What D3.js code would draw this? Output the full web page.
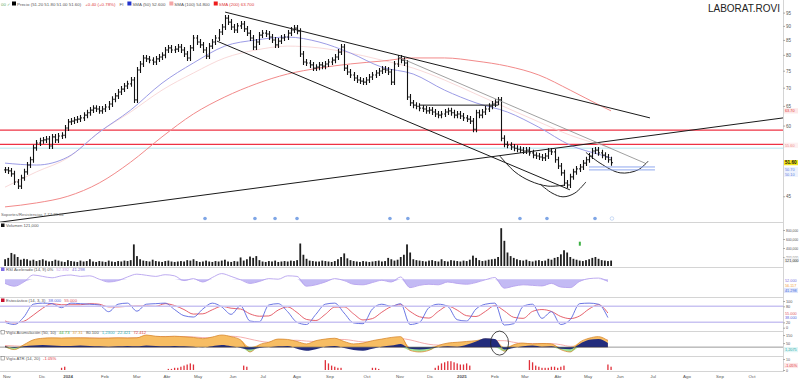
<!DOCTYPE html>
<html>
<head>
<meta charset="utf-8">
<script src="https://cdn.jsdelivr.net/npm/d3@7"></script>
<style>
  body { margin: 0; background: #fff; }
  svg { display: block; font-family: 'Liberation Sans', Arial, sans-serif; }
</style>
</head>
<body>
<svg></svg>
<script>
// one slot = two trading sessions
const closes = [
  50.1,49.9,49.3,47.7,46.9,48.5,49.7,51.1,52.2,54.8,
  55.9,56.4,56.6,56.8,55.2,57.3,56.6,57.5,57.7,59.4,
  60.9,61.1,61.4,61.6,61.9,62.6,63.2,63.9,64.4,64.2,
  63.7,64.2,64.7,65.5,66.8,67.7,68.8,69.6,70.5,71.1,
  72.2,66.6,75.2,77.1,79.0,78.7,78.3,77.7,78.7,79.3,
  79.9,81.6,82.3,81.6,81.9,82.6,81.6,80.3,79.0,82.3,
  85.7,84.3,83.3,81.6,79.6,82.9,84.3,85.7,87.8,89.6,
  92.9,91.4,89.6,88.5,90.0,90.7,88.9,87.4,85.7,82.6,
  84.3,86.7,87.4,87.1,86.0,85.0,83.3,84.6,85.7,86.0,
  87.4,88.5,89.2,88.1,80.3,77.7,77.4,76.8,75.8,76.1,
  76.8,76.4,77.1,77.7,78.3,79.3,80.9,82.6,75.8,74.6,
  73.7,72.8,72.2,71.9,71.6,72.2,73.1,73.7,74.3,74.9,
  75.5,75.2,74.6,71.6,77.1,79.0,78.3,77.4,67.4,65.8,
  65.2,64.9,64.4,64.2,63.7,63.9,63.4,62.9,62.6,62.9,
  63.4,63.7,63.2,62.6,62.9,62.4,61.9,61.6,61.1,59.1,
  63.2,62.6,63.4,64.2,64.9,65.5,66.0,66.6,57.0,55.6,
  55.4,55.0,54.7,54.5,54.3,54.1,54.3,53.7,53.2,53.0,
  52.8,52.6,53.0,54.1,53.9,52.2,50.9,49.5,47.5,47.1,
  48.7,49.7,50.3,50.7,51.5,52.2,53.0,54.1,54.3,53.7,
  53.2,52.8,52.2,51.6
]
// thousands of shares
const volumes = [
  150,180,290,260,200,140,160,150,120,140,
  110,130,150,120,100,110,140,120,100,90,
  130,110,100,90,120,100,110,150,100,90,
  110,100,90,120,100,90,110,100,120,110,
  130,480,220,150,120,110,100,140,110,100,
  90,110,120,100,90,100,110,100,130,120,
  150,110,90,100,120,100,90,110,100,120,
  140,100,90,110,100,190,120,150,210,180,
  220,130,100,90,110,100,120,90,100,110,
  100,120,110,130,500,250,160,120,110,100,
  100,120,110,100,90,110,150,200,280,170,
  130,110,100,90,110,100,90,100,110,120,
  100,110,180,150,120,140,200,250,480,300,
  150,130,120,110,100,120,130,110,100,150,
  110,100,130,120,110,100,120,110,140,230,
  180,130,110,120,140,150,160,200,840,560,
  300,220,180,150,130,120,140,110,100,120,
  130,110,120,160,140,180,200,260,350,300,
  200,160,140,120,110,130,150,180,200,160,
  130,120,110,121
]

const smaSlots = [0,10,20,30,40,50,60,70,80,90,100,110,120,130,140,150,160,170,180,190,193]
const sma50 = [51.5,51.1,52.8,58.4,63.9,71.3,77.4,82.9,85.0,86.0,84.3,80.6,76.1,74.0,69.3,65.8,63.4,59.6,55.4,53.2,52.6]
const sma100 = [46.7,49.7,52.6,58.4,63.4,69.3,74.3,79.0,81.6,82.9,82.3,80.6,78.3,75.8,72.2,68.2,64.4,60.9,57.7,55.4,54.8]
const sma200 = [43.1,43.8,45.0,47.5,51.7,57.3,62.9,67.4,71.1,74.0,75.8,77.1,78.0,79.0,79.0,78.0,76.4,73.7,69.3,64.9,63.7]

// oscillators sampled every third slot (0, 3, ... 192)
const rsi = [45,35,50,75,70,65,72,75,70,72,60,50,55,68,78,74,70,76,72,55,62,50,66,80,70,58,45,52,62,60,72,70,35,40,50,62,55,42,40,48,56,50,68,30,38,42,40,50,45,42,48,58,66,28,35,40,38,36,45,32,30,52,62,64,52]
const stochK = [20,12,40,88,92,90,75,92,90,88,85,60,88,92,62,88,90,92,68,45,40,70,92,78,50,82,25,22,85,90,60,20,12,50,88,92,55,18,15,70,88,80,90,12,20,75,88,80,30,25,70,88,92,10,15,80,88,35,60,12,30,90,92,88,38]
const stochD = [25,18,24,47,73,90,86,86,86,90,88,78,78,80,81,81,80,90,83,68,51,52,67,80,73,70,52,43,44,66,78,57,31,27,50,77,78,52,29,34,58,79,86,61,41,36,61,81,66,45,42,61,83,63,39,35,61,68,61,42,34,44,70,86,55]
const accum = [10,-30,30,90,110,115,113,115,115,113,110,112,115,113,115,150,135,130,135,128,120,105,125,150,130,90,-60,30,60,100,95,70,40,80,100,110,70,40,50,80,100,120,130,-40,-60,-40,20,50,60,70,80,100,90,-50,30,50,40,45,40,-30,-60,60,110,130,80]
const accumBase = [10,-10,10,20,25,20,15,15,20,15,10,5,10,15,10,20,15,10,15,10,5,-5,10,25,10,-10,-30,-10,0,10,15,-20,-45,-25,5,15,-10,-35,-45,-20,5,20,40,-20,-30,-20,0,10,5,30,70,110,100,-30,-10,10,20,5,10,-20,-25,40,90,100,50]
const accumSignal = [20,15,10,30,60,85,100,108,112,113,112,111,112,113,114,120,130,132,132,131,126,118,115,125,135,125,100,75,60,65,80,85,75,70,80,95,95,80,65,65,75,90,105,90,60,35,25,30,40,50,60,70,80,80,60,45,45,45,44,30,10,15,45,80,90]

const atrSlots = [18,19,52,53,54,55,56,57,58,59,60,76,77,102,103,104,105,106,107,117,118,119,137,138,139,140,141,142,143,144,145,146,147,148,167,168,169,170,171,172,173,174,175,176,177,178,192,193]
const atrValues = [2,3,1,1,2,2,3,4,5,6,5,4,3,9,6,4,3,2,2,2,2,1,2,4,6,7,8,8,7,6,5,5,6,4,9,7,4,3,2,2,2,3,3,2,3,4,5,3]

// drawn studies: [slot, price]
const lineStarts = [[70.1, 95.2], [67.5, 84.6], [-1.6, 40.5], [132, 65.2]]
const lineEnds = [[205.4, 61.9], [179.9, 46.2], [247.8, 61.9], [157, 65.2]]
const thinStart = [125.2, 79.3]
const thinEnd = [203.8, 51.5]
const cupLeft = [[157.6, 53.0], [162.4, 49.7], [167.2, 47.9], [172.9, 46.9], [178.3, 47.1]]
const cupLow = [[170.4, 47.3], [174.2, 45.6], [177.7, 44.9], [181.5, 45.6], [185, 47.7]]
const cupRight = [[185, 53.8], [189.5, 51.5], [195.9, 49.5], [201.6, 50.1], [204.8, 51.9]]
const resistances = [58.9, 55.6]
const supportCyan = 54.7
const blueLevels = [50.7, 50.1]
const blueLevelSlots = [186, 207]
const eventSlots = [63.7, 79.6, 86, 93, 122.6, 128.3, 164, 172.6, 187.9]
const lastEventSlot = 193.3
const volMarkerSlot = 183
const volMarkerValue = 540
const circleSlot = 157.5
const circleValue = 50

const priceTicks = [45, 60, 65, 70, 75, 80, 85, 90, 95]
const volTicks = [200, 400, 600, 800]
const monthLabels = ['Nov','Dic','2024','Feb','Mar','Abr','May','Jun','Jul','Ago','Sep','Oct','Nov','Dic','2025','Feb','Mar','Abr','May','Jun','Jul','Ago','Sep','Oct']
const monthSlots = [0.6,11.8,20.1,31.8,42,51.6,61.5,72.6,82.2,93,103.5,115.3,125.8,135.4,145.5,156,165.6,176.1,185.7,195.9,206.4,217.2,227.7,237.9]

const width = 799
const height = 379
const axisX = 783
const fmt2 = d3.format('.2f')
const fmt3 = d3.format('.3f')

const svg = d3.select('svg').attr('width', width).attr('height', height)
const defs = svg.append('defs')
const addClip = (id, y0, y1) => {
  defs.append('clipPath').attr('id', id)
    .append('rect').attr('x', 0).attr('y', y0).attr('width', axisX).attr('height', y1 - y0)
}

const x = d3.scaleLinear().domain([0, 247]).range([5, 5 + 247 * 3.14])
const y = d3.scaleLog().domain([40.53, 100]).range([222, 0])
const yVol = d3.scaleLinear().domain([0, 800]).range([266, 230])
const yRsi = d3.scaleLinear().domain([0, 100]).range([296, 268])
const yStoch = d3.scaleLinear().domain([0, 100]).range([327.7, 301])
const yAcc = d3.scaleLinear().domain([-110, 200]).range([356, 331])
const yAtr = d3.scaleLinear().domain([0, 10]).range([370, 359])
const oscSlots = rsi.map((_, i) => i * 3)

addClip('c-main', 0, 222)
addClip('c-vol', 222, 267)
addClip('c-rsi', 267, 297)
addClip('c-stoch', 297, 331)
addClip('c-acc', 331, 356)
addClip('c-atr', 356, 371)

// frame
const frame = svg.append('g').attr('stroke', '#d4d4d4').attr('stroke-width', 1)
;[222.5, 267.5, 297.5, 331.5, 356.5, 371.5].forEach(v => {
  frame.append('line').attr('x1', 0).attr('x2', axisX).attr('y1', v).attr('y2', v)
})
frame.append('line').attr('x1', axisX + 0.5).attr('x2', axisX + 0.5).attr('y1', 0).attr('y2', 372)

const rightAxis = (scale, ticks, fmt, size) => {
  svg.append('g')
    .attr('transform', `translate(${axisX},0)`)
    .call(d3.axisRight(scale).tickValues(ticks).tickSize(2).tickFormat(fmt))
    .call(g => g.select('.domain').remove())
    .call(g => g.selectAll('line').attr('stroke', '#aaa'))
    .call(g => g.selectAll('text').attr('font-size', size).attr('fill', '#555').attr('x', 3))
}

const tag = (yPos, text, bg, fg, bold) => {
  const g = svg.append('g').attr('transform', `translate(${axisX + 1},${yPos})`)
  g.append('rect').attr('x', 0).attr('y', -2.6).attr('width', 14).attr('height', 5.2).attr('fill', bg)
  g.append('text').attr('x', 1).attr('y', 1.5).attr('font-size', bold ? 4.6 : 3.8)
    .attr('font-weight', bold ? 'bold' : 'normal').attr('fill', fg).text(text)
}

// ---------- price panel
const main = svg.append('g').attr('clip-path', 'url(#c-main)')

main.selectAll('line.res')
  .data(resistances)
  .join('line')
  .attr('x1', 0).attr('x2', axisX)
  .attr('y1', d => y(d)).attr('y2', d => y(d))
  .attr('stroke', '#ee3344').attr('stroke-width', 1.2)

main.append('line')
  .attr('x1', 0).attr('x2', axisX)
  .attr('y1', y(supportCyan)).attr('y2', y(supportCyan))
  .attr('stroke', '#cdeff5').attr('stroke-width', 1.5)

const smaLine = d3.line()
  .x((d, i) => x(smaSlots[i]))
  .y(d => y(d))
  .curve(d3.curveMonotoneX)

main.append('path').attr('d', smaLine(sma100)).attr('fill', 'none')
  .attr('stroke', '#f6cfcf').attr('stroke-width', 0.8)
main.append('path').attr('d', smaLine(sma200)).attr('fill', 'none')
  .attr('stroke', '#f28a8a').attr('stroke-width', 1)
main.append('path').attr('d', smaLine(sma50)).attr('fill', 'none')
  .attr('stroke', '#9c9ce6').attr('stroke-width', 1)

// bars: open = previous close, ends stretched a little so flat sessions stay visible
const barPath = closes.map((c, i) => {
  const o = i ? closes[i - 1] : c
  const xi = Math.round(x(i)) + 0.5
  const yo = y(o), yc = y(c)
  const top = Math.min(yo, yc) - 3
  const bottom = Math.max(yo, yc) + 3
  return `M${xi},${top}V${bottom}M${xi - 1.3},${yo}H${xi}M${xi},${yc}H${xi + 1.3}`
}).join('')
main.append('path').attr('d', barPath).attr('fill', 'none')
  .attr('stroke', '#111').attr('stroke-width', 1.1)

main.selectAll('line.trend')
  .data(lineStarts)
  .join('line')
  .attr('x1', d => x(d[0])).attr('y1', d => y(d[1]))
  .attr('x2', (d, i) => x(lineEnds[i][0])).attr('y2', (d, i) => y(lineEnds[i][1]))
  .attr('stroke', '#1a1a1a').attr('stroke-width', 1)

main.append('line')
  .attr('x1', x(thinStart[0])).attr('y1', y(thinStart[1]))
  .attr('x2', x(thinEnd[0])).attr('y2', y(thinEnd[1]))
  .attr('stroke', '#888').attr('stroke-width', 0.8)

const arc = d3.line().x(d => x(d[0])).y(d => y(d[1])).curve(d3.curveCatmullRom)
;[cupLeft, cupLow, cupRight].forEach(pts => {
  main.append('path').attr('d', arc(pts)).attr('fill', 'none')
    .attr('stroke', '#222').attr('stroke-width', 1)
})

main.selectAll('line.blue')
  .data(blueLevels)
  .join('line')
  .attr('x1', x(blueLevelSlots[0])).attr('x2', x(blueLevelSlots[1]))
  .attr('y1', d => y(d)).attr('y2', d => y(d))
  .attr('stroke', '#8fa8ee').attr('stroke-width', 1)

main.selectAll('circle.ev')
  .data(eventSlots)
  .join('circle')
  .attr('cx', d => x(d)).attr('cy', 218.5).attr('r', 1.8)
  .attr('fill', '#7fa6e6')
main.append('circle').attr('cx', x(lastEventSlot)).attr('cy', 218.5).attr('r', 1.8)
  .attr('fill', '#fff').attr('stroke', '#aac4ef').attr('stroke-width', 0.6)

svg.append('text').attr('x', 780).attr('y', 12)
  .attr('text-anchor', 'end').attr('font-size', 10).attr('fill', '#222')
  .text('LABORAT.ROVI')

rightAxis(y, priceTicks, d3.format('d'), 4.5)
tag(y(sma200[sma200.length - 1]), fmt2(sma200[sma200.length - 1]), '#fde8e8', '#e23b3b')
tag(y(resistances[1]) + 1, fmt2(resistances[1]), '#fdf0f0', '#f08a8a')
tag(y(closes[closes.length - 1]), fmt2(closes[closes.length - 1]), '#f3e61c', '#111', true)
tag(y(blueLevels[0]) + 2.5, fmt2(blueLevels[0]), '#eef2fd', '#5c7fe0')
tag(y(blueLevels[1]) + 4.5, fmt2(blueLevels[1]), '#eef2fd', '#5c7fe0')

// header legend
const header = svg.append('g').attr('font-size', 4.4)
const headerItems = [
  { color: '#000', text: 'Precio (51.20 51.80 51.00 51.60)', fill: '#555' },
  { color: null, text: '+0.40 (+0.78%)', fill: '#e04040' },
  { color: null, text: 'FI', fill: '#555' },
  { color: '#2233cc', text: `SMA (50) ${fmt3(sma50[sma50.length - 1])}`, fill: '#555' },
  { color: '#f4a6a6', text: `SMA (100) ${fmt3(sma100[sma100.length - 1])}`, fill: '#555' },
  { color: '#ee1c1c', text: `SMA (200) ${fmt3(sma200[sma200.length - 1])}`, fill: '#e04040' },
]
header.append('text').attr('x', 1).attr('y', 5.5).attr('fill', '#6a6').text('00 ✓')
let hx = 12
headerItems.forEach(item => {
  if (item.color) {
    header.append('rect').attr('x', hx).attr('y', 1.5).attr('width', 4).attr('height', 4).attr('fill', item.color)
    hx += 5
  }
  const t = header.append('text').attr('x', hx).attr('y', 5.5).attr('fill', item.fill).text(item.text)
  hx += t.node().getComputedTextLength() + 4
})

svg.append('text').attr('x', 1).attr('y', 216).attr('font-size', 4.2).attr('fill', '#666')
  .text('Soportes/Resistencias 7.77 28.04')

// small panel legend helper
const legend = (yPos, color, parts) => {
  const g = svg.append('g').attr('font-size', 4.2)
  g.append('rect').attr('x', 1).attr('y', yPos - 3.5).attr('width', 3.5).attr('height', 3.5)
    .attr('fill', color || '#fff').attr('stroke', color ? 'none' : '#666').attr('stroke-width', 0.5)
  let px = 6
  parts.forEach(([text, fill]) => {
    const t = g.append('text').attr('x', px).attr('y', yPos).attr('fill', fill).text(text)
    px += t.node().getComputedTextLength() + 3
  })
}

// ---------- volume
const vol = svg.append('g').attr('clip-path', 'url(#c-vol)')
vol.selectAll('rect')
  .data(volumes)
  .join('rect')
  .attr('x', (d, i) => x(i) - 0.8)
  .attr('y', d => yVol(d))
  .attr('width', 1.8)
  .attr('height', d => yVol(0) - yVol(d))
  .attr('fill', '#1e1e1e')
vol.append('rect').attr('x', x(volMarkerSlot) - 0.8).attr('y', yVol(volMarkerValue))
  .attr('width', 2).attr('height', 4).attr('fill', '#3cb043')

rightAxis(yVol, volTicks, d => d3.format(',')(d * 1000), 3.4)
tag(yVol(volumes[volumes.length - 1]) - 0.5, d3.format(',')(volumes[volumes.length - 1] * 1000), '#f2f2f2', '#333')
legend(227, '#111', [[`Volumen ${d3.format(',')(volumes[volumes.length - 1] * 1000)}`, '#555']])

// ---------- RSI
const rsiG = svg.append('g').attr('clip-path', 'url(#c-rsi)')
rsiG.append('path')
  .attr('d', d3.area()
    .x((d, i) => x(oscSlots[i]))
    .y0(yRsi(60))
    .y1(d => yRsi(Math.min(d, 60)))
    .curve(d3.curveMonotoneX)(rsi))
  .attr('fill', '#a99cf0').attr('opacity', 0.7)
rsiG.append('path')
  .attr('d', d3.line().x((d, i) => x(oscSlots[i])).y(d => yRsi(d)).curve(d3.curveMonotoneX)(rsi))
  .attr('fill', 'none').attr('stroke', '#b7a3ee').attr('stroke-width', 0.9)
tag(yRsi(rsi[rsi.length - 1]) - 1, fmt3(rsi[rsi.length - 1]), '#fff', '#7a6ee0')
tag(yRsi(rsi[rsi.length - 1]) + 4, '56.117', '#fff', '#f0a040')
tag(yRsi(rsi[rsi.length - 1]) + 9, '41.298', '#dfe6fb', '#4466dd')
legend(271, '#7f6ee6', [['RSI Acelerado (14, 9) 0%', '#555'], ['52.392', '#c9a0f0'], ['41.298', '#7a6ee0']])

// ---------- Stochastic
const stG = svg.append('g').attr('clip-path', 'url(#c-stoch)')
;[80, 20].forEach(v => {
  svg.append('line').attr('x1', 0).attr('x2', axisX).attr('y1', yStoch(v)).attr('y2', yStoch(v))
    .attr('stroke', '#c9c3f2').attr('stroke-width', 1.5)
})
const stLine = d3.line().x((d, i) => x(oscSlots[i])).y(d => yStoch(d)).curve(d3.curveMonotoneX)
stG.append('path').attr('d', stLine(stochD)).attr('fill', 'none').attr('stroke', '#e2505c').attr('stroke-width', 0.9)
stG.append('path').attr('d', stLine(stochK)).attr('fill', 'none').attr('stroke', '#5a66e0').attr('stroke-width', 0.9)
rightAxis(yStoch, [0, 20, 80, 100], d3.format('d'), 3.8)
tag(yStoch(stochD[stochD.length - 1]), fmt3(stochD[stochD.length - 1]), '#fff', '#e2505c')
tag(yStoch(stochK[stochK.length - 1]), fmt3(stochK[stochK.length - 1]), '#fff', '#5a66e0')
legend(302, '#c8102e', [['Estocástico (14, 3, 3)', '#555'], [fmt3(stochK[stochK.length - 1]), '#5a66e0'], [fmt3(stochD[stochD.length - 1]), '#e2505c']])

// ---------- accumulation
const acG = svg.append('g').attr('clip-path', 'url(#c-acc)')
const ax = (d, i) => x(oscSlots[i])
acG.append('path')
  .attr('d', d3.line().x(ax).y(d => yAcc(d)).curve(d3.curveMonotoneX)(accumSignal))
  .attr('fill', 'none').attr('stroke', '#f4a5a5').attr('stroke-width', 0.9)
acG.append('path')
  .attr('d', d3.area().x(ax).y0(yAcc(0)).y1(d => yAcc(Math.max(d, 0))).curve(d3.curveMonotoneX)(accum))
  .attr('fill', '#f7bd63')
acG.append('path')
  .attr('d', d3.area().x(ax).y0(yAcc(0)).y1(d => yAcc(Math.min(d, 0))).curve(d3.curveMonotoneX)(accum))
  .attr('fill', '#9fe39a')
acG.append('path')
  .attr('d', d3.line().x(ax).y(d => yAcc(d)).curve(d3.curveMonotoneX)(accum))
  .attr('fill', 'none').attr('stroke', '#d8892e').attr('stroke-width', 0.8)
acG.append('path')
  .attr('d', d3.area().x(ax).y0(yAcc(0)).y1(d => yAcc(d)).curve(d3.curveMonotoneX)(accumBase))
  .attr('fill', '#232c7c')
acG.append('line').attr('x1', 0).attr('x2', axisX).attr('y1', yAcc(0)).attr('y2', yAcc(0))
  .attr('stroke', '#333').attr('stroke-width', 0.5)
svg.append('ellipse')
  .attr('cx', x(circleSlot)).attr('cy', yAcc(circleValue))
  .attr('rx', 9).attr('ry', 12)
  .attr('fill', 'none').attr('stroke', '#222').attr('stroke-width', 0.8)
rightAxis(yAcc, [50, 150], d3.format('d'), 3.8)
tag(yAcc(0) + 2.5, '1,2075', '#e2f6f6', '#2aa9a9')
legend(334, null, [['Vigía Acumulación (50, 10)', '#555'], ['44.73', '#3cb043'], ['37.31', '#e0a040'], ['80.100', '#555'], ['1,2300', '#2ab0c0'], ['22.421', '#2aa9a9'], ['72.412', '#e04040']])

// ---------- ATR histogram
const atrG = svg.append('g').attr('clip-path', 'url(#c-atr)')
atrG.selectAll('rect')
  .data(atrValues)
  .join('rect')
  .attr('x', (d, i) => x(atrSlots[i]) - 0.6)
  .attr('y', d => yAtr(d))
  .attr('width', 1.3)
  .attr('height', d => yAtr(0) - yAtr(d))
  .attr('fill', '#e0303a')
rightAxis(yAtr, [0, 10], d3.format('d'), 3.6)
tag(365.5, '-1.05%', '#fde8e8', '#e0303a')
legend(360, null, [['Vigía ATR (14, 20)', '#555'], ['-1.05%', '#e0303a']])

// ---------- time axis
svg.append('g')
  .selectAll('text')
  .data(monthLabels)
  .join('text')
  .attr('x', (d, i) => x(monthSlots[i]))
  .attr('y', 377.5)
  .attr('text-anchor', 'middle')
  .attr('font-size', 4.4)
  .attr('font-weight', d => d.length === 4 ? 'bold' : 'normal')
  .attr('fill', '#555')
  .text(d => d)
</script>
</body>
</html>
